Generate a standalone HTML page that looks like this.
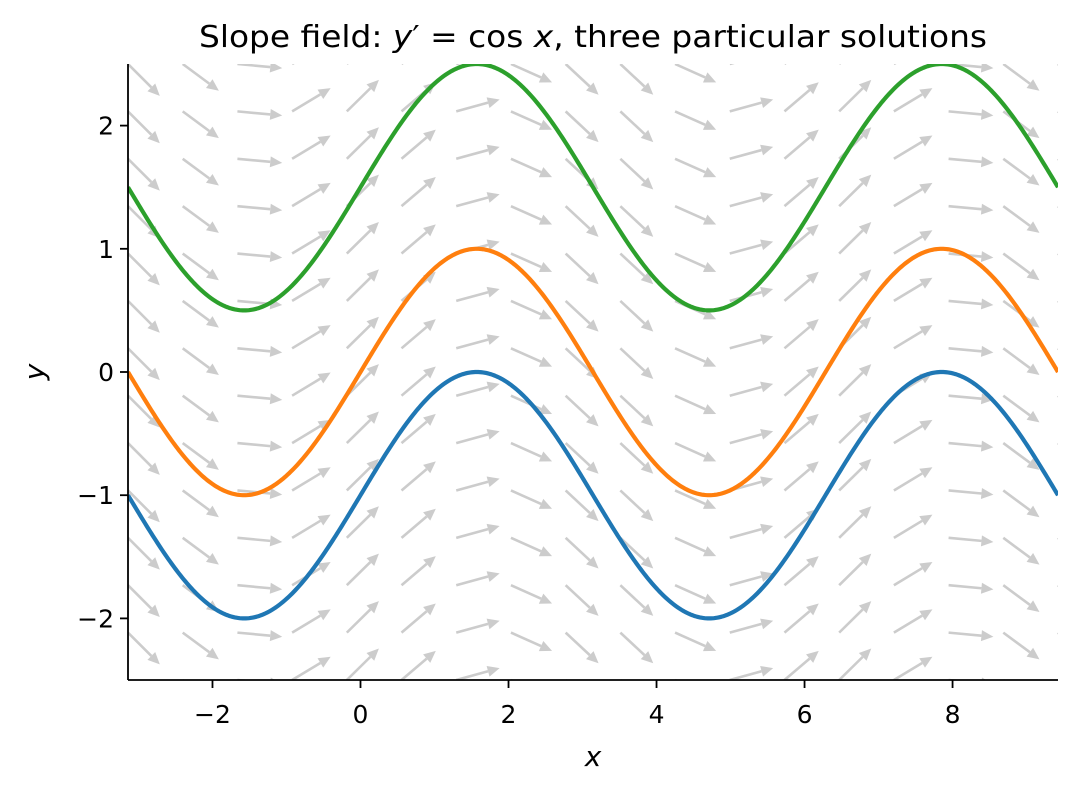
<!DOCTYPE html>
<html><head><meta charset="utf-8"><style>
body{margin:0;background:#fff}
svg{display:block;font-family:"DejaVu Sans","Liberation Sans",sans-serif}
</style></head><body>
<svg id="s" width="1078" height="793" viewBox="0 0 1078 793" xmlns="http://www.w3.org/2000/svg">
<defs><clipPath id="c"><rect x="128" y="64" width="930" height="616"/></clipPath></defs>
<g id="arrows" clip-path="url(#c)"></g>
<g id="curves" clip-path="url(#c)" fill="none" stroke-width="4.2" stroke-linejoin="round"></g>
<line x1="128" y1="64" x2="128" y2="680" stroke="#000" stroke-width="1.8"/>
<line x1="128" y1="680" x2="1058" y2="680" stroke="#000" stroke-width="1.8"/>
<g id="ticks" stroke="#000" stroke-width="1.8"></g>
<g id="labels" font-size="25" fill="#000"></g>
<text x="593" y="47" font-size="30" text-anchor="middle" textLength="788" lengthAdjust="spacingAndGlyphs">Slope field: <tspan font-style="italic">y</tspan>′ = cos <tspan font-style="italic">x</tspan>, three particular solutions</text>
<text x="593" y="766" font-size="28" text-anchor="middle" font-style="italic">x</text>
<text x="44" y="372" font-size="28" text-anchor="middle" font-style="italic" transform="rotate(-90 44 372)">y</text>
</svg>
<script>
var L=128,R=1058,T=64,B=680;
function px(x){return L+(x+Math.PI)/(4*Math.PI)*(R-L);}
function py(y){return T+(2.5-y)/5*(B-T);}
var A=document.getElementById("arrows"),h="";
for(var i=0;i<18;i++){var x=-Math.PI+i*4*Math.PI/17;
 for(var j=0;j<14;j++){var y=-2.5+j*5/13;
  var X=px(x),Y=py(y),c=Math.cos(x),n=Math.hypot(1,c),ux=1/n,uy=-c/n,len=45;
  var ex=X+ux*len,ey=Y+uy*len,hl=12,hw=5.5;
  var bx=ex-ux*hl,by=ey-uy*hl;
  h+='<line x1="'+X+'" y1="'+Y+'" x2="'+bx+'" y2="'+by+'" stroke="#cccccc" stroke-width="2.6"/>';
  h+='<polygon fill="#cccccc" points="'+ex+','+ey+' '+(bx-uy*hw)+','+(by+ux*hw)+' '+(bx+uy*hw)+','+(by-ux*hw)+'"/>';
 }}
A.innerHTML=h;
var C=document.getElementById("curves"),cs=[[-1,"#1f77b4"],[0,"#ff7f0e"],[1.5,"#2ca02c"]],g="";
cs.forEach(function(k){var d="";for(var t=0;t<=600;t++){var x=-Math.PI+t*4*Math.PI/600;d+=(t?"L":"M")+px(x).toFixed(2)+","+py(Math.sin(x)+k[0]).toFixed(2);}
 g+='<path d="'+d+'" stroke="'+k[1]+'"/>';});
C.innerHTML=g;
var tk="",lb="";
for(var v=-2;v<=8;v+=2){var X=px(v);tk+='<line x1="'+X+'" y1="680" x2="'+X+'" y2="688"/>';
 lb+='<text x="'+X+'" y="723" text-anchor="middle">'+(v<0?"−"+(-v):v)+'</text>';}
for(var v=-2;v<=2;v++){var Y=py(v);tk+='<line x1="120" y1="'+Y+'" x2="128" y2="'+Y+'"/>';
 lb+='<text x="114" y="'+(Y+9)+'" text-anchor="end">'+(v<0?"−"+(-v):v)+'</text>';}
document.getElementById("ticks").innerHTML=tk;
document.getElementById("labels").innerHTML=lb;
</script>
</body></html>
